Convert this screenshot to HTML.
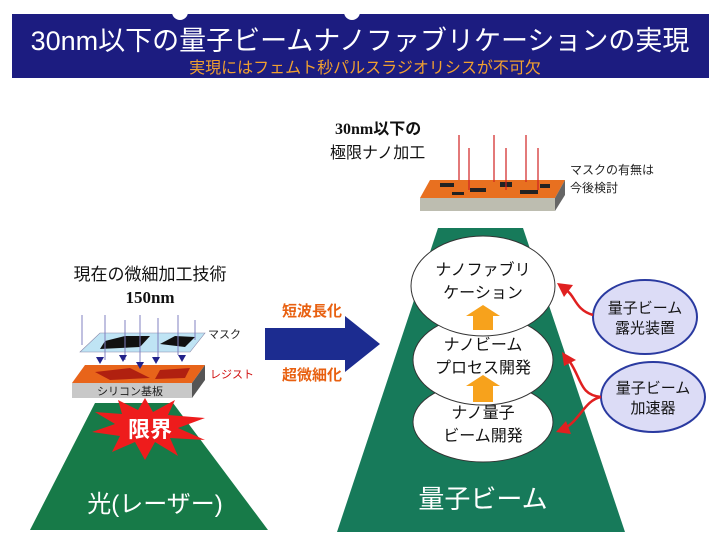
<!DOCTYPE html>
<html><head><meta charset="utf-8"><style>
body{margin:0;background:#fff;}
svg{display:block;font-family:"Liberation Sans","Noto Sans CJK JP",sans-serif;}
</style></head><body>
<svg width="720" height="541" viewBox="0 0 720 541">
<rect x="12" y="14" width="697" height="64" fill="#1c1c80"/>
<circle cx="180" cy="12" r="8" fill="#fff"/><circle cx="352" cy="12" r="8" fill="#fff"/>
<text x="360" y="50" font-size="27" fill="#fff" text-anchor="middle">30nm以下の量子ビームナノファブリケーションの実現</text>
<text x="365" y="73" font-size="16" fill="#f0a030" text-anchor="middle">実現にはフェムト秒パルスラジオリシスが不可欠</text>

<!-- left -->
<text x="150" y="280" font-size="17" text-anchor="middle" fill="#111">現在の微細加工技術</text>
<text x="150" y="303" font-size="17" font-weight="bold" font-family="Liberation Serif" text-anchor="middle" fill="#111">150nm</text>
<polygon points="95,403 173,403 268,530 30,530" fill="#177a48"/>
<text x="155" y="512" font-size="24" fill="#fff" text-anchor="middle">光(レーザー)</text>
<!-- mask -->
<polygon points="80,352 190,352 205,333 100,333" fill="#bfe4f4" stroke="#88a" stroke-width="0.6"/>
<polygon points="105,341 125,336 150,336 140,347 100,349" fill="#111"/>
<polygon points="160,344 175,336 195,337 185,347" fill="#111"/>
<g stroke="#8080c0" stroke-width="1">
<line x1="82" y1="315" x2="82" y2="345"/><line x1="105" y1="315" x2="105" y2="360"/><line x1="125" y1="320" x2="125" y2="360"/><line x1="140" y1="315" x2="140" y2="365"/><line x1="158" y1="318" x2="158" y2="358"/><line x1="178" y1="315" x2="178" y2="355"/><line x1="195" y1="320" x2="195" y2="340"/>
</g>
<text x="208" y="338" font-size="11" fill="#222">マスク</text>
<!-- resist & substrate -->
<polygon points="72,383 192,383 205,365 85,365" fill="#e8641a"/>
<polygon points="95,372 130,368 150,378 110,380" fill="#b02010"/>
<polygon points="160,370 190,368 185,378 155,379" fill="#b02010"/>
<rect x="72" y="383" width="120" height="15" fill="#c8c8c8"/>
<polygon points="192,383 205,365 205,380 192,398" fill="#555"/>
<text x="130" y="395" font-size="11" text-anchor="middle" fill="#222">シリコン基板</text>
<text x="210" y="378" font-size="11" fill="#d01010">レジスト</text>
<g fill="#22228a">
<polygon points="96,357 104,357 100,364"/><polygon points="119,355 127,355 123,362"/><polygon points="136,362 144,362 140,369"/><polygon points="152,357 160,357 156,364"/><polygon points="178,355 186,355 182,362"/>
</g>
<polygon points="145,398 153,412 175,400 168,415 205,418 178,428 205,440 170,438 178,456 155,442 145,460 135,442 112,452 120,436 92,432 115,424 95,412 122,414 118,400 138,410" fill="#ee1c1c"/>
<text x="150" y="437" font-size="22" fill="#fff" text-anchor="middle" font-weight="bold">限界</text>

<!-- blue arrow -->
<polygon points="265,328 345,328 345,316 380,344 345,372 345,360 265,360" fill="#1c2c90"/>
<text x="312" y="316" font-size="15" fill="#e86010" text-anchor="middle" font-weight="bold">短波長化</text>
<text x="312" y="380" font-size="15" fill="#e86010" text-anchor="middle" font-weight="bold">超微細化</text>

<!-- right top -->
<text x="335" y="134" font-size="16" font-weight="bold" font-family="Liberation Serif,Noto Sans CJK JP,serif" fill="#111">30nm以下の</text>
<text x="330" y="158" font-size="16" fill="#111">極限ナノ加工</text>
<polygon points="420,198 555,198 565,180 430,180" fill="#e87020"/>
<g fill="#222"><rect x="440" y="183" width="14" height="4"/><rect x="470" y="188" width="16" height="4"/><rect x="500" y="182" width="12" height="5"/><rect x="520" y="190" width="18" height="4"/><rect x="452" y="192" width="12" height="3"/><rect x="540" y="184" width="10" height="4"/></g>
<rect x="420" y="198" width="135" height="13" fill="#bdbdb0"/>
<polygon points="555,198 565,180 565,195 555,211" fill="#666"/>
<g stroke="#d02020" stroke-width="1.2">
<line x1="459" y1="135" x2="459" y2="180"/><line x1="469" y1="148" x2="469" y2="190"/><line x1="494" y1="135" x2="494" y2="182"/><line x1="506" y1="148" x2="506" y2="190"/><line x1="526" y1="135" x2="526" y2="182"/><line x1="538" y1="148" x2="538" y2="190"/>
</g>
<text x="570" y="174" font-size="12" fill="#222">マスクの有無は</text>
<text x="570" y="192" font-size="12" fill="#222">今後検討</text>

<!-- right trapezoid -->
<polygon points="438,228 523,228 625,532 337,532" fill="#177a5a"/>
<text x="483" y="508" font-size="26" fill="#fff" text-anchor="middle">量子ビーム</text>
<ellipse cx="483" cy="422" rx="70" ry="40" fill="#fff" stroke="#333"/>
<ellipse cx="483" cy="360" rx="70" ry="45" fill="#fff" stroke="#333"/>
<ellipse cx="483" cy="286" rx="72" ry="50" fill="#fff" stroke="#333"/>
<polygon points="473,330 473,316 466,316 483,305 500,316 493,316 493,330" fill="#f7a21c"/>
<polygon points="473,402 473,386 466,386 483,375 500,386 493,386 493,402" fill="#f7a21c"/>
<text x="483" y="275" font-size="16" text-anchor="middle" fill="#111">ナノファブリ</text>
<text x="483" y="298" font-size="16" text-anchor="middle" fill="#111">ケーション</text>
<text x="483" y="350" font-size="16" text-anchor="middle" fill="#111">ナノビーム</text>
<text x="483" y="373" font-size="16" text-anchor="middle" fill="#111">プロセス開発</text>
<text x="483" y="418" font-size="16" text-anchor="middle" fill="#111">ナノ量子</text>
<text x="483" y="441" font-size="16" text-anchor="middle" fill="#111">ビーム開発</text>

<ellipse cx="645" cy="317" rx="52" ry="37" fill="#dcdcf6" stroke="#2a3aa0" stroke-width="2"/>
<ellipse cx="653" cy="397" rx="52" ry="35" fill="#dcdcf6" stroke="#2a3aa0" stroke-width="2"/>
<text x="645" y="313" font-size="15" text-anchor="middle" fill="#111">量子ビーム</text>
<text x="645" y="333" font-size="15" text-anchor="middle" fill="#111">露光装置</text>
<text x="653" y="393" font-size="15" text-anchor="middle" fill="#111">量子ビーム</text>
<text x="653" y="413" font-size="15" text-anchor="middle" fill="#111">加速器</text>
<g stroke="#e02020" stroke-width="2.5" fill="none">
<path d="M593,315 C575,310 575,295 566,290"/>
<path d="M601,397 C580,395 582,380 570,362"/>
<path d="M601,397 C585,400 580,420 565,428"/>
</g>
<g fill="#e02020">
<polygon points="557,283 573,285 564,297"/><polygon points="562,352 576,360 564,366"/><polygon points="556,432 566,421 571,434"/>
</g>
</svg>
</body></html>
